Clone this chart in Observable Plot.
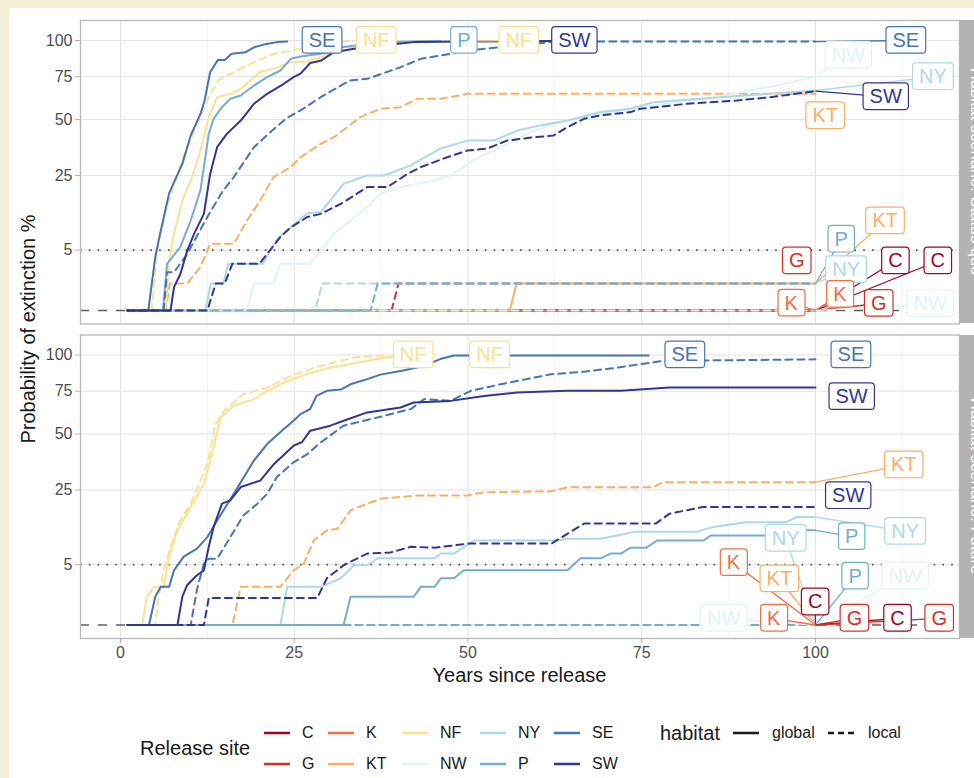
<!DOCTYPE html>
<html>
<head>
<meta charset="utf-8">
<script src="https://cdn.jsdelivr.net/npm/d3@7"></script>
<script src="https://cdn.jsdelivr.net/npm/@observablehq/plot@0.6"></script>
<style>
  html, body { margin: 0; padding: 0; }
  body { width: 974px; height: 778px; background: #f5eed9; position: relative; overflow: hidden;
         font-family: "Liberation Sans", Arial, sans-serif; color: #1a1a1a; }
  #card { position: absolute; left: 9px; top: 8px; width: 1000px; height: 800px; background: #fff; }
  #chart { position: absolute; left: 0; top: 0; }
  .strip { position: absolute; background: #b3b3b3; display: flex; align-items: center; justify-content: center; overflow: hidden; }
  .strip span { writing-mode: vertical-rl; color: #fff; font-size: 16.5px; white-space: nowrap; }
  .abs { position: absolute; white-space: nowrap; }
  .ytitle { font-size: 20px; transform: translate(-50%, -50%) rotate(-90deg); }
  .xtitle { font-size: 20px; transform: translate(-50%, -50%); }
  .lgtitle { font-size: 20px; transform: translateY(-50%); }
  .lgtext { font-size: 16px; transform: translateY(-50%); }
  .key { position: absolute; transform: translateY(-50%); }
</style>
</head>
<body>
<div id="card"></div>
<div id="chart"></div>
<script>
// ---------- categories / ticks ----------
const siteNames  = ["C", "G", "K", "KT", "NF", "NW", "NY", "P", "SE", "SW"];
const siteColors = ["#a50026", "#d73027", "#f46d43", "#fdae61", "#fee090", "#e0f3f8", "#abd9e9", "#74add1", "#4575b4", "#313695"];
const habitats = ["global", "local"];
const scenarios = ["Status quo", "Future"];
const scenarioTitles = ["Habitat scenario: Status quo", "Habitat scenario: Future"];
const xTicks = [0, 25, 50, 75, 100];
const xMinor = [12.5, 37.5, 62.5, 87.5, 112.5];
const yTicks = [5, 25, 50, 75, 100];
const thresholdLine = [5];
const zeroLine = [0];

// ---------- series: [year, probability %] ----------
const flatZero = [[1,0],[100,0]];

// Status quo
const sq_SE_global = [[1,0],[4,0],[5,3.9],[5.7,8.1],[7,18.9],[7.7,22.6],[8.9,29.5],[10.1,42],[11.5,53],[12.1,60.5],[12.9,78],[14,86],[15,86],[16,90.4],[18,91.5],[19.2,95],[21,97.5],[22.5,98.8],[24,99.2]];
const sq_SE_local  = [[1,0],[6.2,0],[6.7,2],[7.7,2],[9.6,4.4],[12.5,12],[14.6,19.2],[16.3,24.4],[19.2,36.6],[22,45],[24,51],[25.9,54.9],[28.8,62.4],[33,72.6],[35.5,73.6],[40.3,81.2],[43.2,86.9],[46,89.1],[49.9,92.7],[54.7,95.1],[59.5,97.5],[62.3,99.2],[100,99.2]];
const sq_NF_global = [[1,0],[6.5,0],[7,3.4],[7.7,8.1],[8.9,16.6],[10.3,24.4],[11.5,35.1],[12.7,51.3],[13.9,62.4],[15.8,64.4],[17.3,67.4],[20.1,78],[22,80.1],[24.5,84.6],[26.9,85],[28.8,88],[32,95],[35.3,96],[40.3,98.5],[45,99.5],[49,99.6]];
const sq_NF_local  = [[1,0],[4.5,0],[5.3,5.2],[6.7,14.6],[8.2,25.6],[9.6,36.6],[11.5,51.3],[12.7,62.4],[14.1,72.6],[16.3,78],[19.2,84.6],[22,90.3],[25.9,93.9],[28.8,96],[31,98.5],[33,99.6]];
const sq_P_global  = [[1,0],[6.1,0],[6.7,3],[8.6,5.5],[10.1,11.1],[11.5,19.8],[12.7,42.8],[13.4,50.4],[14.4,55.8],[15.8,61.5],[17.3,63.4],[19.2,69.4],[21.1,74.7],[23,79],[24.5,86.9],[25.9,88.5],[28.8,90.4],[31.7,95],[35,97],[40,99],[46,99.6]];
const sq_SW_global = [[1,0],[7.2,0],[7.7,0.75],[8.6,1.8],[9.6,4.9],[10.6,8.1],[12,12.8],[12.9,25.6],[13.9,36.6],[15.3,42.8],[17.3,49.5],[19.2,58.6],[21.1,64.4],[23.5,70.5],[24.9,74.7],[25.9,77],[27.3,84],[28.8,85.5],[30.7,91.5],[33.6,94],[37.9,96.5],[42.2,98.8],[50,99.3],[62,99.6]];
const sq_NY_global = [[1,0],[12.2,0],[13,1],[14.8,1],[15.5,3],[20.5,3],[21,3.9],[22.5,7],[24.5,9.5],[26.9,13],[28.8,13.3],[32.1,22],[35.5,25],[37.9,25],[41.7,28.8],[46,35.9],[49.9,39.6],[53.7,39.6],[57.1,44.4],[60.4,47],[64.3,49.5],[69.1,54],[73.4,55.8],[76.7,59.5],[86.3,62.4],[100,66.4]];
const sq_NW_global = [[1,0],[18.2,0],[19.2,1],[22,1],[23,3],[27.3,3],[28.8,4.9],[30.7,8.1],[33.1,11.1],[35.5,14.6],[37.4,18.7],[40.3,20.9],[45.1,23.2],[47.5,25],[50.8,30.9],[54.7,36.6],[59.5,44.4],[64.3,49.5],[69.1,53],[75,57],[85,62],[90,66],[95,70],[100,75]];
const sq_SW_local  = [[1,0],[12.5,0],[13.7,1],[15,1],[16.1,3],[20,3],[21.1,4.4],[23,7.4],[24.5,9.5],[26.9,12],[28.8,12.8],[31.7,15.6],[35.5,20.9],[38.4,20.9],[41.3,25.6],[43.2,28.2],[47,32.2],[49.9,35.1],[52.8,36],[55.6,39.6],[59.5,41.2],[62.3,42],[64.3,46.1],[66.7,50.4],[69,52.2],[73.4,54],[74.8,55.8],[81.5,58.6],[88.7,60.5],[93.5,62.4],[100,66]];
const sq_KT_local  = [[1,0],[6.5,0],[7.1,1],[9.6,1],[11.5,2.6],[12.9,6.1],[16.3,6.1],[18.2,11.1],[20.1,16.6],[22,24.4],[24.5,28.2],[25.9,32.2],[28.8,38.1],[30.7,41.2],[34.5,51.3],[37.4,55.8],[40.3,56.7],[42.7,61.5],[46.1,61.5],[49.9,64.4],[100,64.4]];
const sq_KT_global = [[1,0],[56,0],[57,1],[100,1]];
const sq_P_local   = [[1,0],[36,0],[37,1],[100,1]];
const sq_G_local   = [[1,0],[39,0],[40,1],[100,1]];
const sq_NY_local  = [[1,0],[28,0],[29,1],[100,1]];

// Future
const fu_NF_global = [[1,0],[3.1,0],[3.8,1.1],[4.8,2],[6.2,2],[7,6.4],[8.2,12.3],[10.1,19.1],[12,27.3],[13.4,43.3],[14.4,59.1],[16.3,65.9],[19.2,70],[21.1,75.2],[24,81.7],[26.9,86.5],[30.2,90.9],[35.5,95.6],[38.4,98.5],[42,99.6]];
const fu_NF_local  = [[1,0],[5,0],[5.5,1.1],[6.2,4.1],[7.2,8.4],[8.6,15],[10.1,20.2],[11.5,28.6],[12.5,35.6],[13.7,55.5],[14.9,62.9],[17.7,73.1],[21.1,77.3],[24.9,86],[28,91],[30.2,94],[34,98.5],[38,99.6]];
const fu_SE_global = [[1,0],[4.1,0],[5,1.1],[5.8,2],[7,2],[7.7,4.1],[9.1,6.4],[11,8],[12.5,10.6],[13.9,15],[16.3,23.6],[19.2,37.1],[21.1,44.9],[23.5,52.7],[24.9,57.2],[25.9,61],[27.3,64],[28.2,72],[29.7,75.2],[31.7,76],[33.1,79.5],[35.5,82.9],[37.4,86],[40.3,88.5],[42.7,91],[44.2,93.3],[46,97],[48,99.6],[76,99.6]];
const fu_SE_local  = [[1,0],[10.1,0],[11,1.7],[12,5.2],[12.7,6],[13.9,6],[15.8,10.6],[17.7,16.5],[19.7,20.2],[21.1,23.6],[22.5,30],[24.9,36.3],[26.9,40.1],[28.8,45.7],[32.1,54.5],[37.9,60],[41.8,64],[43.7,70],[47.5,69],[50.4,75.2],[54.7,79.5],[61.9,86.2],[66.7,88],[71.5,90.9],[78,95.6],[84,96],[100,96.8]];
const fu_SW_global = [[1,0],[8.2,0],[8.9,1.1],[9.6,2.2],[11,3.4],[12,4.1],[12.7,8.4],[13.4,13.2],[14.6,20.2],[15.8,21.3],[17.3,26.1],[20.1,28.6],[22.1,35.6],[24.9,44.1],[26.1,45.8],[27.3,51.8],[30.2,54.5],[32.1,57.2],[35.5,62],[40.3,64.9],[42.2,67.9],[47.5,68.9],[52.3,72],[57.1,74.1],[64.3,75.2],[72,75.2],[79,77.3],[100,77.3]];
const fu_SW_local  = [[1,0],[12,0],[12.7,1],[28.3,1],[29.7,3],[32.1,4.9],[35.5,7],[38.8,7.2],[41.8,8.4],[45.2,8.2],[50.1,9.1],[62,9.1],[64.3,11.4],[66.7,14.1],[77,14.1],[79,17],[83.8,19.1],[100,19.1]];
const fu_KT_local  = [[1,0],[16.1,0],[17.3,2],[23,2],[24.9,4.1],[26.4,5.2],[27.8,9.8],[29.7,12.3],[31.2,12.7],[33.1,18],[35.5,20.2],[37.4,21.9],[42.7,23],[49.9,23],[52.3,24.2],[62,24.5],[64.3,26],[76.7,26],[78,28],[100,28]];
const fu_NY_global = [[1,0],[23,0],[24,2],[28.8,2],[31.7,3],[33.6,4.9],[35.5,4.9],[37,6.1],[45.2,6.1],[46.1,7],[48,7],[50.9,9.8],[62.9,9.8],[64.3,10.2],[69.1,10.2],[71.5,11],[73.8,11.9],[82.9,11.9],[85.3,13.2],[90,14.5],[95.8,14.5],[97.3,16],[100,16]];
const fu_P_global  = [[1,0],[32.1,0],[33.1,1.1],[42.2,1.1],[43.2,2],[45.2,2],[46.1,3],[48,3],[49.4,4.1],[64.3,4.1],[66.2,6.1],[69.1,6.1],[70.5,7],[72,7],[73.4,8.2],[75.7,8.2],[77.2,9.8],[83.9,9.8],[84.9,11],[95,11],[97,12.3],[100,12.3]];

// ---------- end labels (repelled label anchor in data units): site, habitat, year, %, has connector ----------
const sqLabels = [
  ["SE","global",29.0,100,0], ["NF","local",36.8,100,0], ["P","global",49.4,100,0], ["NF","global",57.3,100,1],
  ["SW","global",65.3,100,0], ["SE","local",113.0,100,1], ["NW","global",104.7,89.2,1], ["NY","global",116.9,74.9,1],
  ["SW","local",110.1,62.6,1], ["KT","local",101.4,52.0,0], ["KT","global",110.0,11.0,1], ["P","local",103.7,6.95,1],
  ["G","local",97.3,3.36,0], ["NY","local",104.4,2.27,1], ["C","global",111.5,3.36,1], ["C","local",117.6,3.36,1],
  ["K","global",96.5,0.073,1], ["K","local",103.5,0.35,1], ["G","global",109.1,0.067,1], ["NW","local",116.5,0.062,1]
];
const fuLabels = [
  ["NF","local",42.1,100,0], ["NF","global",53.1,100,0], ["SE","global",81.2,100,0], ["SE","local",105.1,100,0],
  ["SW","global",105.2,71.5,0], ["KT","local",112.7,35.1,1], ["SW","local",104.7,22.9,0], ["NY","local",95.7,10.3,1],
  ["P","global",105.2,10.7,1], ["NY","global",112.9,12.0,1], ["K","global",88.2,5.32,1], ["KT","global",94.8,2.9,1],
  ["C","global",99.95,0.72,1], ["P","local",105.7,3.27,1], ["NW","global",112.9,3.27,1], ["NW","local",86.8,0.061,1],
  ["K","local",94.0,0.061,1], ["G","global",105.6,0.061,1], ["C","local",111.8,0.061,1], ["G","local",117.8,0.061,1]
];

// ---------- build tables ----------
const sqSeries = {
  C_global: flatZero, C_local: flatZero, G_global: flatZero, G_local: sq_G_local,
  K_global: flatZero, K_local: flatZero, KT_global: sq_KT_global, KT_local: sq_KT_local,
  NF_global: sq_NF_global, NF_local: sq_NF_local, NW_global: sq_NW_global, NW_local: flatZero,
  NY_global: sq_NY_global, NY_local: sq_NY_local, P_global: sq_P_global, P_local: sq_P_local,
  SE_global: sq_SE_global, SE_local: sq_SE_local, SW_global: sq_SW_global, SW_local: sq_SW_local
};
const fuSeries = {
  C_global: flatZero, C_local: flatZero, G_global: flatZero, G_local: flatZero,
  K_global: flatZero, K_local: flatZero, KT_global: flatZero, KT_local: fu_KT_local,
  NF_global: fu_NF_global, NF_local: fu_NF_local, NW_global: flatZero, NW_local: flatZero,
  NY_global: fu_NY_global, NY_local: flatZero, P_global: fu_P_global, P_local: flatZero,
  SE_global: fu_SE_global, SE_local: fu_SE_local, SW_global: fu_SW_global, SW_local: fu_SW_local
};
const seriesByScenario = [sqSeries, fuSeries];
const labelsByScenario = [sqLabels, fuLabels];

const seriesList = [];
scenarios.forEach((scen, si) => {
  for (const site of siteNames) for (const hab of habitats) {
    const pts = seriesByScenario[si][site + "_" + hab];
    seriesList.push({scenario: scen, site, habitat: hab,
      rows: pts.map(([year, value]) => ({scenario: scen, site, habitat: hab, year, value}))});
  }
});

const labelRows = [], linkRows = [];
scenarios.forEach((scen, si) => {
  for (const [site, hab, lx, ly, seg] of labelsByScenario[si]) {
    labelRows.push({scenario: scen, site, habitat: hab, x: lx, y: ly});
    if (seg) {
      const pts = seriesByScenario[si][site + "_" + hab];
      const [ex, ey] = pts[pts.length - 1];
      linkRows.push({scenario: scen, site, x1: ex, y1: ey, x2: lx, y2: ly});
    }
  }
});

const FONT = '"Liberation Sans", Arial, sans-serif';

const lineMarks = seriesList.map(s => Plot.line(s.rows, {
  x: "year", y: "value", fy: "scenario", stroke: "site",
  strokeWidth: 2, strokeDasharray: s.habitat === "local" ? "7,5" : null
}));

const chart = Plot.plot({
  width: 974, height: 690,
  marginLeft: 80, marginRight: 15, marginTop: 20, marginBottom: 52,
  style: {background: "transparent", fontFamily: FONT, overflow: "visible"},
  x: {domain: [-5.755, 120.72], label: null},
  y: {type: "sqrt", domain: [-0.25, 115.36], label: null},
  fy: {domain: scenarios, paddingInner: 0.035, paddingOuter: 0, round: false, axis: null, label: null},
  color: {domain: siteNames, range: siteColors},
  marks: [
    Plot.ruleX(xMinor, {stroke: "#efefef", strokeWidth: 0.8}),
    Plot.ruleX(xTicks, {stroke: "#e2e2e2", strokeWidth: 1}),
    Plot.ruleY(yTicks, {stroke: "#e2e2e2", strokeWidth: 1}),
    Plot.ruleY(zeroLine, {stroke: "#606060", strokeWidth: 1.4, strokeDasharray: "9,9"}),
    Plot.ruleY(thresholdLine, {stroke: "#505050", strokeWidth: 1.6, strokeDasharray: "1.6,7.2"}),
    ...lineMarks,
    Plot.frame({stroke: "#b8b8b8", strokeWidth: 1.3}),
    Plot.axisY(yTicks, {tickSize: 5, tickPadding: 3, fontSize: 16, color: "#4d4d4d", stroke: "#b3b3b3", label: null}),
    Plot.axisX(xTicks, {tickSize: 5, tickPadding: 3, fontSize: 16, color: "#4d4d4d", stroke: "#b3b3b3", label: null}),
    Plot.link(linkRows, {x1: "x1", y1: "y1", x2: "x2", y2: "y2", fy: "scenario", stroke: "site", strokeWidth: 1.3}),
    Plot.text(labelRows, {x: "x", y: "y", fy: "scenario", text: "site", fill: "site",
      fontSize: 20, fontFamily: FONT})
  ]
});
document.getElementById("chart").append(chart);

// label boxes (geom_label style) behind each text of the label text mark
const NS = "http://www.w3.org/2000/svg";
const siteColorOf = new Map(siteNames.map((s, i) => [s, siteColors[i]]));
const labelTexts = Array.from(chart.querySelectorAll("text")).filter(t =>
  !t.closest('[aria-label*="axis"]') && siteColorOf.has(t.textContent));
labelTexts.forEach(t => {
  const bb = t.getBBox();
  const r = document.createElementNS(NS, "rect");
  r.setAttribute("x", bb.x - 6.5);
  r.setAttribute("y", bb.y - 2.3);
  r.setAttribute("width", bb.width + 13);
  r.setAttribute("height", bb.height + 4.6);
  r.setAttribute("rx", 3.5);
  r.setAttribute("fill", "#fff");
  r.setAttribute("stroke", t.getAttribute("fill") || siteColorOf.get(t.textContent));
  r.setAttribute("stroke-width", 1.2);
  const tr = t.getAttribute("transform");
  if (tr) r.setAttribute("transform", tr);
  t.parentNode.insertBefore(r, t);
});

// ---------- HTML overlays: strips, titles, legend ----------
const fyScale = chart.scale("fy");
const bw = fyScale.bandwidth;
scenarios.forEach((scen, i) => {
  const top = fyScale.apply(scen);
  const d = document.createElement("div");
  d.className = "strip";
  Object.assign(d.style, {left: "959px", top: top + "px", width: "34px", height: bw + "px"});
  const sp = document.createElement("span");
  sp.textContent = scenarioTitles[i];
  d.append(sp);
  document.body.append(d);
});
const firstTop = fyScale.apply(scenarios[0]);
const lastBottom = fyScale.apply(scenarios[1]) + bw;

function addText(cls, txt, left, top) {
  const d = document.createElement("div");
  d.className = "abs " + cls;
  d.textContent = txt;
  d.style.left = left + "px";
  d.style.top = top + "px";
  document.body.append(d);
  return d;
}
addText("ytitle", "Probability of extinction %", 28, (firstTop + lastBottom) / 2);
addText("xtitle", "Years since release", (80 + 959) / 2, 675);

// legend
const rowY = [733, 764];
const colKeyX = [264, 328, 402, 480, 554];
addText("lgtitle", "Release site", 140, 748);
function keySvg(color, dash, left, top) {
  const s = document.createElementNS(NS, "svg");
  s.setAttribute("width", 26); s.setAttribute("height", 6);
  s.setAttribute("class", "key");
  s.style.left = left + "px"; s.style.top = top + "px";
  const l = document.createElementNS(NS, "line");
  l.setAttribute("x1", 0); l.setAttribute("x2", 26); l.setAttribute("y1", 3); l.setAttribute("y2", 3);
  l.setAttribute("stroke", color); l.setAttribute("stroke-width", 2.5);
  if (dash) l.setAttribute("stroke-dasharray", dash);
  s.append(l);
  document.body.append(s);
}
siteNames.forEach((site, i) => {
  const col = Math.floor(i / 2), row = i % 2;
  keySvg(siteColors[i], null, colKeyX[col], rowY[row]);
  addText("lgtext", site, colKeyX[col] + 38, rowY[row]);
});
addText("lgtitle", "habitat", 660, 733);
keySvg("#1a1a1a", null, 733, 733);
addText("lgtext", habitats[0], 772, 733);
keySvg("#1a1a1a", "6,4", 828, 733);
addText("lgtext", habitats[1], 868, 733);
</script>
</body>
</html>
